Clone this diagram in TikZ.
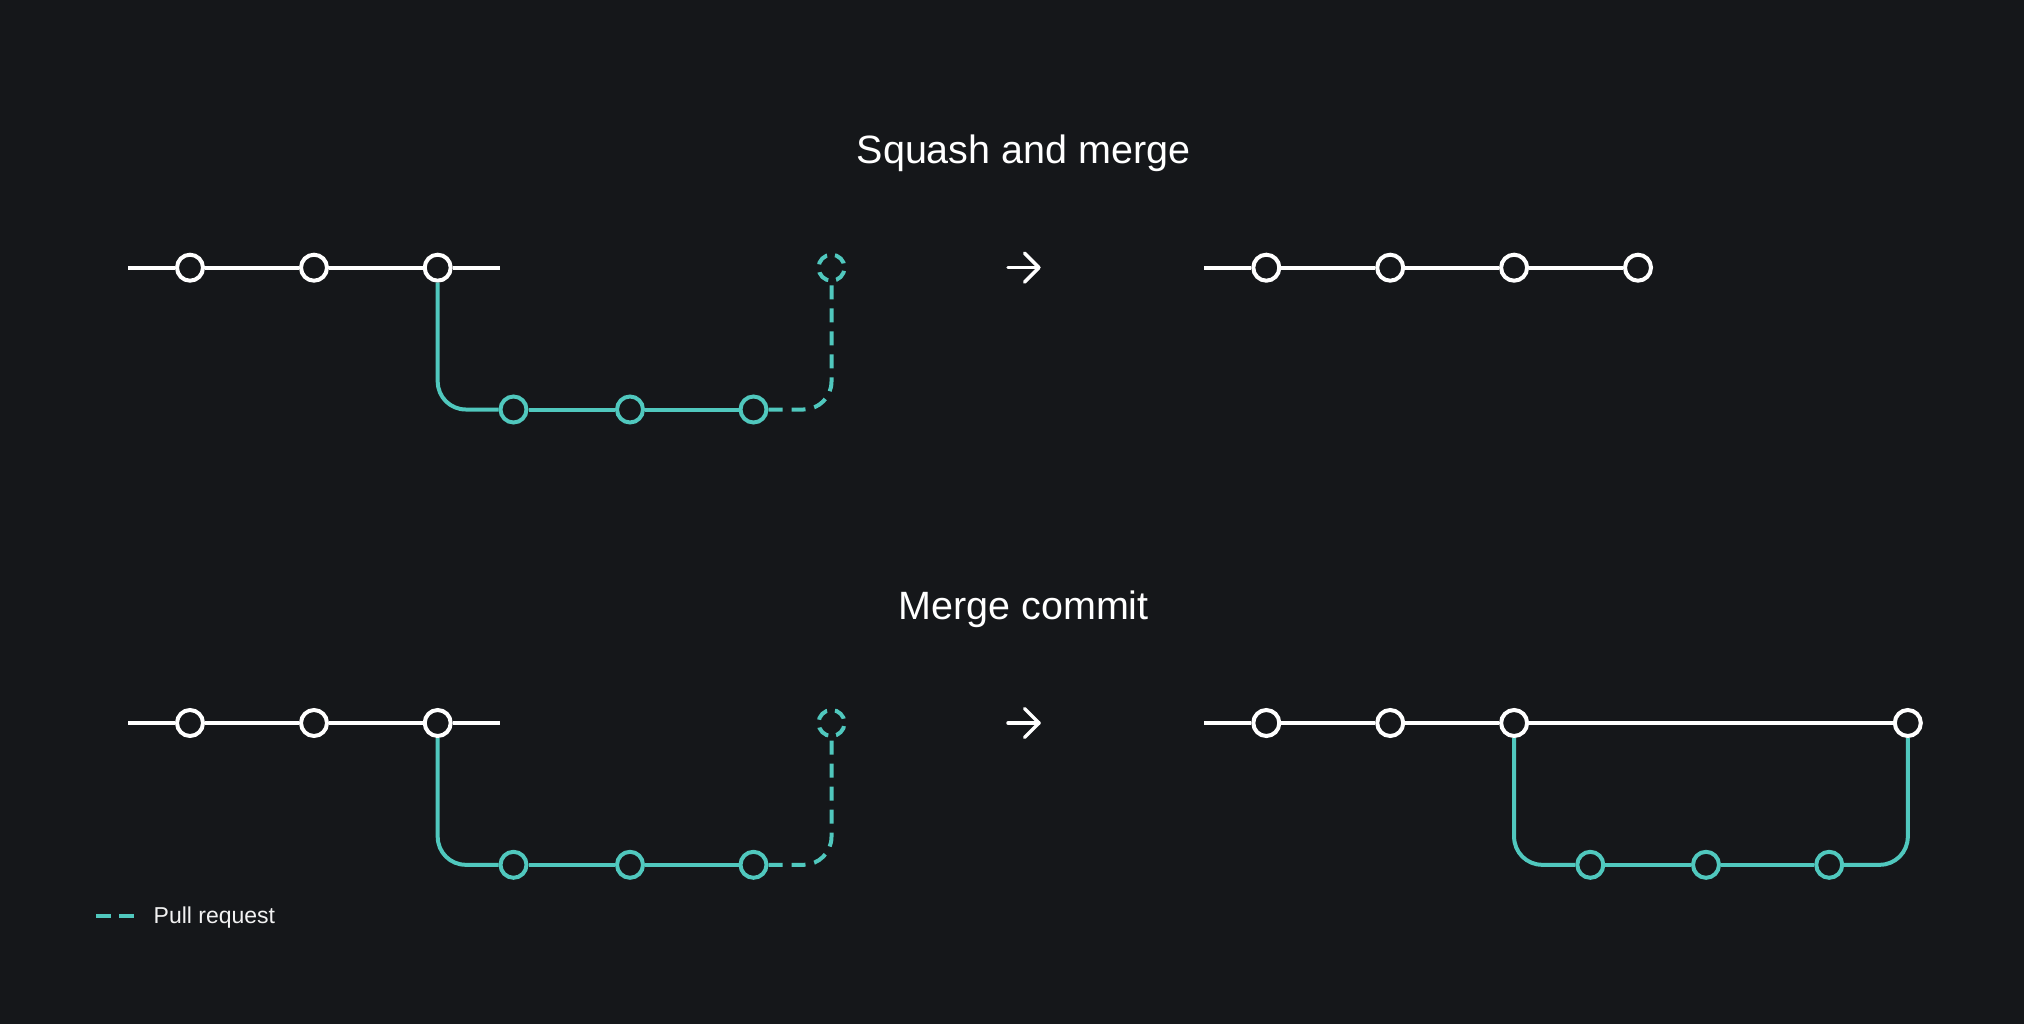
\documentclass[tikz,border=0pt]{standalone}
\usepackage{fontspec}
\setmainfont{Liberation Sans}
\usetikzlibrary{calc}
\definecolor{bgc}{HTML}{15171A}
\definecolor{prteal}{RGB}{80,200,190}
\begin{document}
\begin{tikzpicture}[x=1pt,y=-1pt,
  commit/.style={circle, draw=white, fill=bgc, line width=4pt, minimum size=26pt, inner sep=0pt},
  bcommit/.style={commit, draw=prteal},
  prcommit/.style={circle, draw=prteal, line width=4pt, minimum size=26pt, inner sep=0pt, dash pattern=on 12.4pt off 8pt, dash phase=16pt},
  mainline/.style={draw=white, line width=4pt},
  branch/.style={draw=prteal, line width=4pt, rounded corners=28pt},
  prline/.style={branch, dash pattern=on 14pt off 9pt},
  title/.style={text=white, font=\fontsize{39.5}{46}\selectfont, anchor=base, inner sep=0pt},
  legend/.style={text=white!90!gray, font=\fontsize{23}{27}\selectfont, anchor=base west, inner sep=0pt},
  arrowsym/.style={draw=white, line width=3.5pt, line cap=round, line join=round}
]
\fill[bgc] (0,0) rectangle (2024,1024);
\useasboundingbox (0,0) rectangle (2024,1024);

% ---------- Squash and merge ----------
\node[title] (t1title) at (1023.6,164) {Squash and merge};
\coordinate (as) at (128,267.7);
\coordinate (ae) at (500,267.7);
\node[commit] (a1) at (190,267.7) {};
\node[commit] (a2) at (314,267.7) {};
\node[commit] (a3) at (437.7,267.7) {};
\node[bcommit] (ab1) at (513.5,409.5) {};
\node[bcommit] (ab2) at (630,409.5) {};
\node[bcommit] (ab3) at (753.5,409.5) {};
\node[prcommit] (apr) at (831.5,267.7) {};
\draw[mainline] (as) -- (a1) -- (a2) -- (a3) -- (ae);
\draw[branch] (a3) |- (ab1);
\draw[branch] (ab1) -- (ab2) -- (ab3);
\draw[prline] (ab3) -| (apr);

\coordinate (arrA) at (1008,267.7);
\coordinate (arrB) at (1039,267.7);
\draw[arrowsym] (arrA) -- (arrB);
\draw[arrowsym] ($(arrB)+(-14.5,-14.5)$) -- (arrB) -- ($(arrB)+(-14.5,14.5)$);

\coordinate (bs) at (1204,267.7);
\node[commit] (b1) at (1266.3,267.7) {};
\node[commit] (b2) at (1390.2,267.7) {};
\node[commit] (b3) at (1514.1,267.7) {};
\node[commit] (b4) at (1638,267.7) {};
\draw[mainline] (bs) -- (b1) -- (b2) -- (b3) -- (b4);

% ---------- Merge commit ----------
\node[title] (t2title) at (1023.6,619.5) {Merge commit};
\coordinate (cs) at (128,723);
\coordinate (ce) at (500,723);
\node[commit] (c1) at (190,723) {};
\node[commit] (c2) at (314,723) {};
\node[commit] (c3) at (437.7,723) {};
\node[bcommit] (cb1) at (513.5,864.8) {};
\node[bcommit] (cb2) at (630,864.8) {};
\node[bcommit] (cb3) at (753.5,864.8) {};
\node[prcommit] (cpr) at (831.5,723) {};
\draw[mainline] (cs) -- (c1) -- (c2) -- (c3) -- (ce);
\draw[branch] (c3) |- (cb1);
\draw[branch] (cb1) -- (cb2) -- (cb3);
\draw[prline] (cb3) -| (cpr);

\coordinate (arrC) at (1008,723);
\coordinate (arrD) at (1039,723);
\draw[arrowsym] (arrC) -- (arrD);
\draw[arrowsym] ($(arrD)+(-14.5,-14.5)$) -- (arrD) -- ($(arrD)+(-14.5,14.5)$);

\coordinate (ds) at (1204,723);
\node[commit] (d1) at (1266.3,723) {};
\node[commit] (d2) at (1390.2,723) {};
\node[commit] (d3) at (1514.1,723) {};
\node[commit] (d4) at (1907.8,723) {};
\node[bcommit] (db1) at (1590.3,864.8) {};
\node[bcommit] (db2) at (1706,864.8) {};
\node[bcommit] (db3) at (1829.2,864.8) {};
\draw[mainline] (ds) -- (d1) -- (d2) -- (d3) -- (d4);
\draw[branch] (d3) |- (db1);
\draw[branch] (db1) -- (db2) -- (db3);
\draw[branch] (db3) -| (d4);

% ---------- Legend ----------
\coordinate (lg1) at (96,916);
\coordinate (lg2) at (134,916);
\draw[draw=prteal, line width=4pt, dash pattern=on 15pt off 8pt] (lg1) -- (lg2);
\node[legend] (lgtext) at (153.5,923) {Pull request};
\end{tikzpicture}
\end{document}
